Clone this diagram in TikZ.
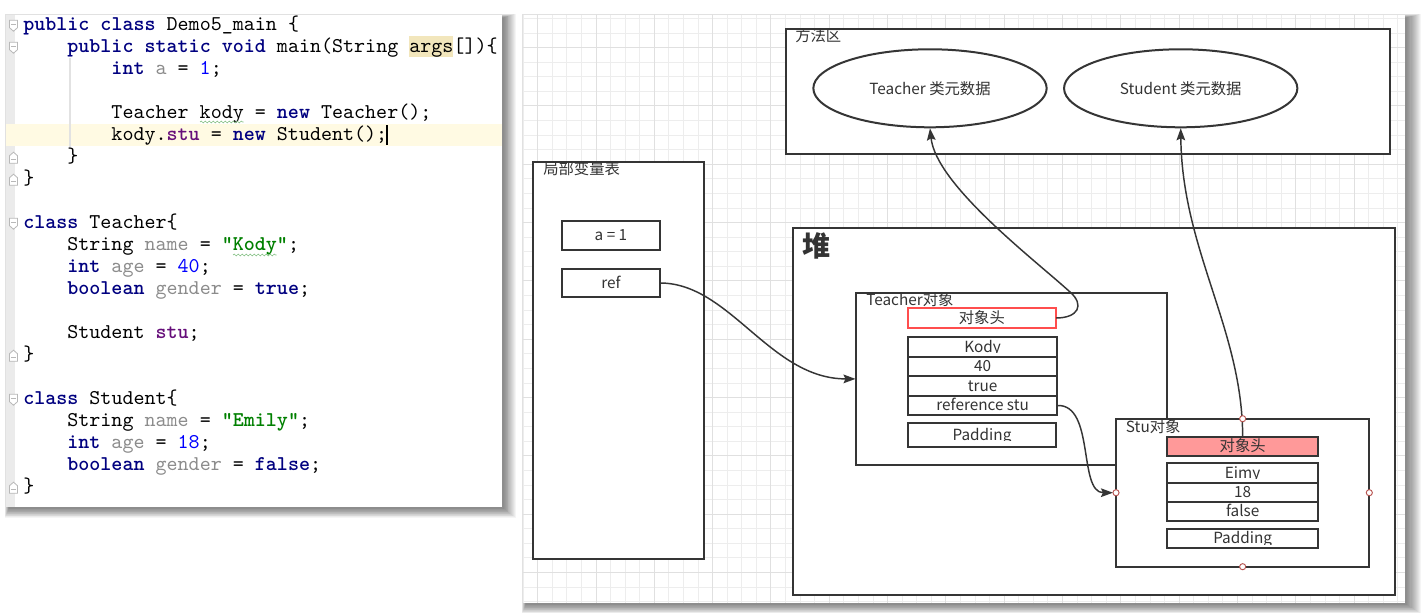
\documentclass[tikz,border=0pt]{standalone}
\usepackage{fontspec}
\usetikzlibrary{shapes.geometric,arrows.meta,decorations.pathmorphing,fit}
\newfontfamily\codefont{lmmono10-regular.otf}[BoldFont=lmmonolt10-bold.otf]
\newfontfamily\cjk{Noto Sans CJK SC}

% editor colours
\definecolor{kwc}{HTML}{000080}
\definecolor{fldc}{HTML}{8C8C8C}
\definecolor{numc}{HTML}{0000FF}
\definecolor{strc}{HTML}{008000}
\definecolor{memc}{HTML}{660E7A}
\definecolor{curline}{HTML}{FFFAE3}
\definecolor{argsbg}{HTML}{F2E6BC}
\definecolor{gutterc}{HTML}{EBEBEB}
\definecolor{foldc}{HTML}{B8B8B8}
\definecolor{guidec}{HTML}{E2E2E2}
\definecolor{wavec}{HTML}{8CC48C}
% diagram colours
\definecolor{boxline}{HTML}{353535}
\definecolor{txt}{HTML}{333333}
\definecolor{headred}{HTML}{FF4D4D}
\definecolor{headpink}{HTML}{FF9999}
\definecolor{portred}{HTML}{B85450}
\definecolor{gridminor}{HTML}{EDEDED}
\definecolor{gridmajor}{HTML}{E0E0E0}

\newcommand\jkw[1]{\textcolor{kwc}{\bfseries #1}}
\newcommand\jfld[1]{\textcolor{fldc}{#1}}
\newcommand\jnum[1]{\textcolor{numc}{#1}}
\newcommand\jstr[1]{\textcolor{strc}{\bfseries #1}}
\newcommand\jmem[1]{\textcolor{memc}{\bfseries #1}}

% a field cell: boxed text, centred and cut at its baseline
\newcommand\cell[4]{%
  \node[box, fit={#2#3}, path picture={%
     \clip (path picture bounding box.north west) rectangle ([yshift=-4.3pt]path picture bounding box.east);
     \node[lbl, anchor=base] at ([yshift=-3.8pt]path picture bounding box.center) {#4};}] (#1) {};}
% a plain boxed label: name, corners, text, extra options
\newcommand\tcell[5]{%
  \node[box, #5, fit={#2#3}, path picture={%
     \node[lbl, anchor=base] at ([yshift=-4pt]path picture bounding box.center) {#4};}] (#1) {};}

% fold markers in the editor gutter
\newcommand\foldopen[1]{%
  \draw[foldc, fill=white, line width=0.6pt] (9.5,#1-5.5) -- (17.5,#1-5.5) -- (17.5,#1+2) -- (13.5,#1+5.5) -- (9.5,#1+2) -- cycle;
  \draw[foldc, line width=0.6pt] (11.3,#1-1.5) -- (15.7,#1-1.5);}
\newcommand\foldclose[1]{%
  \draw[foldc, fill=white, line width=0.6pt] (9.5,#1+5.5) -- (17.5,#1+5.5) -- (17.5,#1-2) -- (13.5,#1-5.5) -- (9.5,#1-2) -- cycle;
  \draw[foldc, line width=0.6pt] (11.3,#1+1.5) -- (15.7,#1+1.5);}

\begin{document}
\begin{tikzpicture}[x=0.75pt,y=-0.75pt,
  code/.style={anchor=base west, inner sep=0pt, font=\codefont\fontsize{15.76}{18}\selectfont},
  box/.style={rectangle, draw=boxline, line width=1.5pt, fill=white, inner sep=0pt, outer sep=0pt},
  lbl/.style={inner sep=0pt, font=\cjk\fontsize{11.5}{14}\selectfont, text=txt},
  meta/.style={ellipse, draw=boxline, line width=1.5pt, fill=white, inner sep=0pt,
    minimum width=175pt, minimum height=58.5pt, font=\cjk\fontsize{11.5}{14}\selectfont, text=txt},
  arr/.style={draw=boxline, line width=1.1pt, -{Stealth[length=9pt,width=6.5pt,inset=1.5pt]}},
  port/.style={circle, draw=portred, fill=white, line width=0.7pt, minimum size=4.6pt, inner sep=0pt},
  wave/.style={draw=wavec, line width=0.5pt, decorate, decoration={snake, amplitude=0.7pt, segment length=3pt}}
]
\useasboundingbox (0,0) rectangle (1423,613);
\fill[white] (0,0) rectangle (1423,613);

% ---------------- soft shadows of the two panels ----------------
\foreach \i in {1,...,14} {
  \fill[black, opacity=0.04] (6+3-\i*0.3, 15+3-\i*0.3) rectangle (502+1+\i*0.9, 507+1+\i*0.7);
  \fill[black, opacity=0.04] (523+3-\i*0.3, 15+3-\i*0.3) rectangle (1405+1+\i*1.1, 603+1+\i*0.7);
}

% ---------------- code editor ----------------
\fill[white] (6,15) rectangle (502,507);
\fill[gutterc] (6,15) rectangle (15,507);
\fill[curline] (6,124) rectangle (502,146);
\fill[argsbg] (409,36) rectangle (453,57);
\draw[guidec, line width=0.8pt] (70,58) -- (70,147);

\node[code] (c1)  at (23,30.7)    {\jkw{public class} Demo5\_main \{};
\node[code] (c2)  at (67.1,52.7)  {\jkw{public static void} main(String args[])\{};
\node[code] (c3)  at (111.2,74.7) {\jkw{int} \jfld{a} = \jnum{1};};
\node[code] (c5)  at (111.2,118.7) {Teacher kody = \jkw{new} Teacher();};
\node[code] (c6)  at (111.2,140.7) {kody.\jmem{stu} = \jkw{new} Student();};
\node[code] (c7)  at (67.1,162.7) {\}};
\node[code] (c8)  at (23,184.7)   {\}};
\node[code] (c10) at (23,228.7)   {\jkw{class} Teacher\{};
\node[code] (c11) at (67.1,250.7) {String \jfld{name} = \jstr{"Kody"};};
\node[code] (c12) at (67.1,272.7) {\jkw{int} \jfld{age} = \jnum{40};};
\node[code] (c13) at (67.1,294.7) {\jkw{boolean} \jfld{gender} = \jkw{true};};
\node[code] (c15) at (67.1,338.7) {Student \jmem{stu};};
\node[code] (c16) at (23,360.7)   {\}};
\node[code] (c18) at (23,404.7)   {\jkw{class} Student\{};
\node[code] (c19) at (67.1,426.7) {String \jfld{name} = \jstr{"Emily"};};
\node[code] (c20) at (67.1,448.7) {\jkw{int} \jfld{age} = \jnum{18};};
\node[code] (c21) at (67.1,470.7) {\jkw{boolean} \jfld{gender} = \jkw{false};};
\node[code] (c22) at (23,492.7)   {\}};

% caret and spell-check squiggles
\draw[black, line width=1.1pt] (387,125.5) -- (387,145.5);
\draw[wave] (200,122) -- (243.5,122);
\draw[wave] (233,255) -- (276.5,255);

\foldopen{25.7}
\foldopen{47.7}
\foldclose{157.7}
\foldclose{179.7}
\foldopen{223.7}
\foldclose{355.7}
\foldopen{399.7}
\foldclose{487.7}

% ---------------- diagram canvas with grid ----------------
\begin{scope}
  \clip (523,15) rectangle (1405,603);
  \fill[white] (523,15) rectangle (1405,603);
  \foreach \k in {-5,...,55} {
    \pgfmathsetmacro\gx{596+14.58*\k}
    \draw[gridminor, line width=0.75pt] (\gx,15) -- (\gx,603);
  }
  \foreach \k in {-6,...,34} {
    \pgfmathsetmacro\gy{106+14.58*\k}
    \draw[gridminor, line width=0.75pt] (523,\gy) -- (1405,\gy);
  }
  \foreach \k in {-1,...,13} {
    \pgfmathsetmacro\gx{596+58.32*\k}
    \draw[gridmajor, line width=0.75pt] (\gx,15) -- (\gx,603);
  }
  \foreach \k in {-1,...,8} {
    \pgfmathsetmacro\gy{106+58.32*\k}
    \draw[gridmajor, line width=0.75pt] (523,\gy) -- (1405,\gy);
  }
\end{scope}

% method area
\node[box, fit={(786,29.3)(1390,154)}] (method) {};
\node[lbl, anchor=base west] (methodlbl) at (795,42) {方法区};
\node[meta] (tmeta) at (930,88.3) {Teacher 类元数据};
\node[meta] (smeta) at (1180.7,88.3) {Student 类元数据};

% local variable table
\node[box, fit={(533.3,161.7)(704,559)}] (locals) {};
\node[lbl, anchor=base west] (localslbl) at (543,174.5) {局部变量表};
\tcell{va}{(562,220.7)}{(660,250)}{a = 1}{}
\tcell{ref}{(562,269.3)}{(660,296.7)}{ref}{}

% heap
\node[box, fit={(792.7,228.3)(1395,595)}] (heap) {};
\node[lbl, anchor=base west, font=\cjk\bfseries\fontsize{21}{24}\selectfont] (heaplbl) at (802,256) {堆};

% Teacher object
\node[box, fit={(855.5,292.5)(1167.3,465.3)}] (tobj) {};
\node[lbl, anchor=base west] (tobjlbl) at (866,305.5) {Teacher对象};
\tcell{thead}{(907.7,308.3)}{(1056,327.7)}{对象头}{draw=headred}
\cell{tname}{(908,337.3)}{(1057.3,356.7)}{Kody}
\cell{tage}{(908,356.7)}{(1057.3,376.3)}{40}
\cell{tgender}{(908,376.3)}{(1057.3,396)}{true}
\cell{tref}{(908,396)}{(1057.3,415)}{reference stu}
\cell{tpad}{(908,423.3)}{(1056,447)}{Padding}

% Student object
\node[box, fit={(1116,418.7)(1369.3,566.7)}] (sobj) {};
\node[lbl, anchor=base west] (sobjlbl) at (1125.7,432.3) {Stu对象};
\tcell{shead}{(1167.3,436.7)}{(1318,456)}{对象头}{fill=headpink}
\cell{sname}{(1167.3,463.3)}{(1318,482.7)}{Eimy}
\cell{sage}{(1167.3,482.7)}{(1318,501.7)}{18}
\cell{sgender}{(1167.3,501.7)}{(1318,521.3)}{false}
\cell{spad}{(1167.3,528.7)}{(1318,548)}{Padding}

% references
\draw[arr] (ref.east) .. controls (730,283) and (770,378.9) .. (tobj.west);
\draw[arr] (thead.east) .. controls (1078,318) and (1085,305) .. (1070,292)
           .. controls (1035,260) and (936,185) .. (tmeta.south);
\draw[arr, shorten >=2.3pt] (tref.east) .. controls (1095,404) and (1078,492.7) .. (sobj.west);
\draw[arr] (shead.north) .. controls (1242.6,330) and (1182,250) .. (smeta.south);

% connection points of the Student object
\foreach \a in {north,west,east,south}
  \node[port] (port-\a) at (sobj.\a) {};
\end{tikzpicture}
\end{document}
